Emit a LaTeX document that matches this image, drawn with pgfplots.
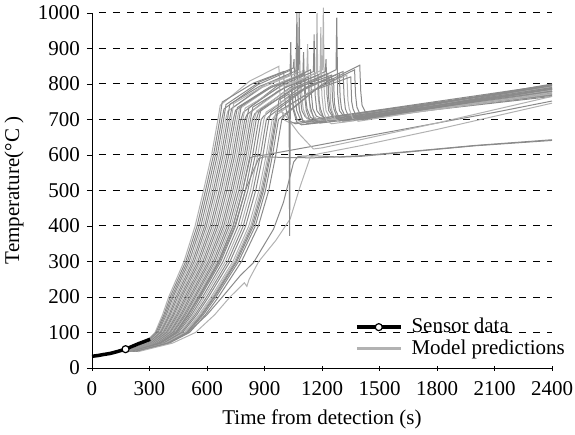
\documentclass[border=0pt]{standalone}
\usepackage{fontspec}
\setmainfont{Liberation Serif}
\usepackage{pgfplots}
\pgfplotsset{compat=1.18}
\definecolor{gd}{RGB}{138,138,138}
\definecolor{gl}{RGB}{178,178,178}
\begin{document}
\fontsize{21bp}{25bp}\selectfont
\begin{tikzpicture}
\begin{axis}[
  scale only axis, width=460bp, height=355bp,
  xmin=0, xmax=2400, ymin=0, ymax=1000,
  xtick={0,300,...,2400}, ytick={0,100,...,1000},
  /pgf/number format/assume math mode=true,
  /pgf/number format/1000 sep={},
  axis x line=bottom, axis y line=left,
  axis line style={-, line width=0.9bp},
  ytick align=outside, major tick length=5bp,
  tick style={black, line width=0.9bp},
  xticklabel style={yshift=-4bp},
  ymajorgrids,
  major grid style={black, line width=1bp, dash pattern=on 7bp off 7bp, dash phase=7bp},
  clip=false,
  xlabel={Time from detection (s)},
  ylabel={Temperature(°C )},
  legend image code/.code={\draw[mark repeat=2,mark phase=2,#1] plot coordinates {(0bp,0bp) (22bp,0bp) (44bp,0bp)};},
  legend style={draw=none, fill=none, at={(1.035,0.02)}, anchor=south east,
    cells={anchor=west}, inner sep=1bp,
    /tikz/every odd column/.append style={column sep=7bp}},
  mp/.style={gd, line width=1bp, forget plot},
  ml/.style={gl, line width=1bp, forget plot},
]
% model predictions
\addplot[ml] coordinates {(185,47) (274,70) (329,100) (368,150) (400,200) (480,300) (538,400) (582,500) (624,600) (657,700) (669,740) (822,808) (975,850) (980,780) (987,730) (1005,698) (1035,690) (2400,775)};
\addplot[mp] coordinates {(186,47) (278,70) (334,100) (375,150) (408,200) (489,300) (548,400) (592,500) (634,600) (667,700) (679,749) (840,802) (1000,835) (1005,765) (1012,730) (1030,696) (1060,688) (2400,770)};
\addplot[mp] coordinates {(188,47) (282,70) (340,100) (381,150) (416,200) (498,300) (558,400) (602,500) (644,600) (677,700) (689,730) (865,798) (1040,840) (1045,770) (1052,730) (1070,700) (1100,692) (2400,780)};
\addplot[mp] coordinates {(189,47) (286,70) (345,100) (388,150) (423,200) (507,300) (568,400) (613,500) (654,600) (687,700) (699,742) (875,806) (1050,845) (1054,870) (1059,770) (1068,725) (1085,703) (1110,695) (2400,785)};
\addplot[ml] coordinates {(190,47) (289,70) (351,100) (395,150) (431,200) (516,300) (578,400) (623,500) (664,600) (697,700) (709,724) (887,790) (1064,830) (1068,970) (1073,770) (1082,725) (1099,698) (1124,690) (2400,772)};
\addplot[mp] coordinates {(192,47) (293,70) (356,100) (402,150) (439,200) (525,300) (588,400) (633,500) (674,600) (707,700) (719,743) (876,794) (1033,825) (1037,918) (1042,770) (1051,725) (1068,693) (1093,685) (2400,765)};
\addplot[mp] coordinates {(193,47) (297,70) (361,100) (408,150) (447,200) (534,300) (597,400) (643,500) (684,600) (717,700) (729,731) (903,799) (1077,840) (1081,1000) (1086,770) (1095,725) (1112,708) (1137,700) (2400,790)};
\addplot[ml] coordinates {(194,47) (301,70) (367,100) (415,150) (455,200) (543,300) (607,400) (653,500) (694,600) (727,700) (739,745) (915,801) (1090,835) (1095,765) (1102,730) (1120,703) (1150,695) (2400,778)};
\addplot[mp] coordinates {(196,47) (305,70) (372,100) (422,150) (462,200) (552,300) (617,400) (664,500) (704,600) (737,700) (749,726) (907,784) (1065,820) (1069,1000) (1074,770) (1083,725) (1100,696) (1125,688) (2400,768)};
\addplot[mp] coordinates {(197,47) (309,70) (378,100) (428,150) (470,200) (561,300) (627,400) (674,500) (714,600) (747,700) (759,734) (935,794) (1110,830) (1115,760) (1122,730) (1140,706) (1170,698) (2400,785)};
\addplot[ml] coordinates {(199,47) (313,70) (383,100) (435,150) (478,200) (570,300) (637,400) (684,500) (725,600) (757,700) (769,730) (945,795) (1121,835) (1125,912) (1130,770) (1139,725) (1156,708) (1181,700) (2400,792)};
\addplot[mp] coordinates {(200,47) (317,70) (388,100) (442,150) (486,200) (579,300) (647,400) (694,500) (735,600) (767,700) (779,739) (940,792) (1100,825) (1104,890) (1109,770) (1118,725) (1135,700) (1160,692) (2400,775)};
\addplot[mp] coordinates {(201,47) (320,70) (394,100) (449,150) (494,200) (588,300) (657,400) (704,500) (745,600) (777,700) (789,720) (965,794) (1140,840) (1145,770) (1152,730) (1170,710) (1200,702) (2400,795)};
\addplot[ml] coordinates {(203,47) (324,70) (399,100) (455,150) (501,200) (597,300) (667,400) (715,500) (755,600) (787,700) (799,732) (985,793) (1170,830) (1174,1000) (1179,770) (1188,725) (1205,706) (1230,698) (2400,788)};
\addplot[mp] coordinates {(204,47) (328,70) (405,100) (462,150) (509,200) (606,300) (677,400) (725,500) (765,600) (797,700) (809,714) (970,780) (1130,820) (1135,750) (1142,730) (1160,698) (1190,690) (2400,770)};
\addplot[mp] coordinates {(205,47) (332,70) (410,100) (469,150) (517,200) (615,300) (687,400) (735,500) (775,600) (807,700) (819,733) (987,796) (1155,835) (1159,940) (1164,770) (1173,725) (1190,713) (1215,705) (2400,798)};
\addplot[ml] coordinates {(207,47) (336,70) (415,100) (476,150) (525,200) (624,300) (696,400) (745,500) (785,600) (817,700) (829,721) (1016,795) (1203,840) (1207,1015) (1212,770) (1221,725) (1238,708) (1263,700) (2400,790)};
\addplot[mp] coordinates {(208,47) (340,70) (421,100) (482,150) (533,200) (633,300) (706,400) (755,500) (795,600) (827,700) (839,735) (1010,791) (1180,825) (1185,755) (1192,730) (1210,703) (1240,695) (2400,780)};
\addplot[mp] coordinates {(209,47) (344,70) (426,100) (489,150) (540,200) (642,300) (716,400) (766,500) (805,600) (837,700) (849,716) (1033,790) (1217,835) (1221,870) (1226,770) (1235,725) (1252,711) (1277,703) (2400,795)};
\addplot[ml] coordinates {(211,47) (348,70) (432,100) (496,150) (548,200) (651,300) (726,400) (776,500) (815,600) (847,700) (859,724) (1025,784) (1190,820) (1194,960) (1199,770) (1208,725) (1225,696) (1250,688) (2400,772)};
\addplot[mp] coordinates {(212,47) (351,70) (437,100) (502,150) (556,200) (660,300) (736,400) (786,500) (825,600) (857,700) (869,720) (1050,788) (1230,830) (1235,760) (1242,730) (1260,708) (1290,700) (2400,785)};
\addplot[mp] coordinates {(214,47) (357,70) (444,100) (511,150) (566,200) (672,300) (749,400) (800,500) (838,600) (870,700) (882,729) (1066,789) (1250,825) (1255,755) (1262,730) (1280,703) (1310,695) (2400,780)};
\addplot[mp] coordinates {(216,47) (362,70) (451,100) (520,150) (577,200) (684,300) (762,400) (813,500) (852,600) (883,700) (895,709) (1084,790) (1273,840) (1277,987) (1282,770) (1291,725) (1308,713) (1333,705) (2400,798)};
\addplot[ml] coordinates {(217,47) (367,70) (459,100) (529,150) (587,200) (696,300) (776,400) (827,500) (865,600) (897,700) (909,721) (1075,779) (1240,815) (1245,745) (1252,725) (1270,700) (1300,692) (2400,776)};
\addplot[mp] coordinates {(219,47) (372,70) (466,100) (538,150) (598,200) (708,300) (789,400) (840,500) (879,600) (910,700) (922,708) (1106,784) (1290,830) (1295,760) (1302,730) (1320,710) (1350,702) (2400,790)};
\addplot[mp] coordinates {(221,47) (377,70) (473,100) (547,150) (608,200) (720,300) (802,400) (854,500) (892,600) (923,700) (935,721) (1123,792) (1310,835) (1315,765) (1322,730) (1340,706) (1370,698) (2400,785)};
\addplot[ml] coordinates {(223,47) (384,70) (482,100) (558,150) (621,200) (735,300) (818,400) (871,500) (909,600) (940,700) (952,709) (1141,781) (1330,825) (1335,755) (1342,730) (1360,703) (1390,695) (2400,782)};
\addplot[mp] coordinates {(226,47) (390,70) (491,100) (570,150) (634,200) (750,300) (835,400) (888,500) (926,600) (957,700) (969,722) (1160,783) (1350,820) (1355,750) (1362,730) (1380,708) (1410,700) (2400,788)};
\addplot[mp] coordinates {(228,47) (397,70) (500,100) (581,150) (647,200) (765,300) (852,400) (905,500) (942,600) (973,700) (985,706) (1178,789) (1370,840) (1375,770) (1382,735) (1400,713) (1430,705) (2400,796)};
\addplot[mp] coordinates {(230,47) (403,70) (509,100) (592,150) (660,200) (780,300) (868,400) (922,500) (959,600) (990,700) (1002,710) (1200,799) (1397,853) (1402,780) (1409,740) (1427,720) (1457,712) (2400,800)};
% curves that level off lower
\addplot[mp] coordinates {(214,47) (357,70) (440,100) (500,150) (560,200) (665,300) (745,400) (800,500) (845,560) (870,590) (900,595) (1000,593) (1150,592) (1300,595) (1400,598) (1700,612) (2000,627) (2400,643)};
\addplot[mp] coordinates {(212,47) (351,70) (437,100) (502,150) (556,200) (660,300) (736,400) (786,500) (825,592) (845,596) (900,600) (1155,625) (1400,650) (1800,690) (2100,720) (2400,752)};
\addplot[ml] coordinates {(225,47) (388,70) (487,100) (565,150) (629,200) (744,300) (828,400) (881,500) (919,600) (950,700) (962,725) (998,719) (1080,660) (1155,617) (1200,620) (1400,643) (1800,690) (2400,765)};
\addplot[mp] coordinates {(230,47) (400,70) (500,100) (600,150) (680,200) (773,260) (843,297) (947,391) (999,467) (1052,580) (1075,596) (1150,598) (1300,594) (1400,596) (1700,611) (2000,626) (2400,641)};
\addplot[ml] coordinates {(240,46) (420,70) (540,100) (640,150) (720,200) (795,240) (808,230) (820,250) (870,300) (960,360) (1034,420) (1087,513) (1139,594) (1180,603) (1400,626) (1800,672) (2400,746)};
\addplot[mp] coordinates {(226,47) (393,70) (495,100) (574,150) (639,200) (756,300) (842,400) (895,500) (932,600) (963,700) (975,755) (1028,772) (1031,372) (1035,765) (1150,800) (1260,815) (1265,745) (1272,725) (1290,705) (1320,697) (2400,780)};
% sensor data
\addplot[black, line width=3.5bp, forget plot] coordinates {(0,33) (30,35) (60,38) (95,41) (130,46) (175,53) (210,61) (245,69) (275,75) (303,81)};
\addplot[only marks, mark=*, mark size=3.5bp, mark options={fill=white, draw=black, line width=1.2bp}, forget plot] coordinates {(175,53)};
\addlegendimage{black, line width=3.5bp, mark=*, mark size=3.5bp, mark options={fill=white, draw=black, line width=1.2bp, solid}}
\addlegendimage{gl, line width=3bp}
\legend{Sensor data, Model predictions}
\coordinate (o) at (rel axis cs:0,0);
\end{axis}
\pgfresetboundingbox
\path (o) ++(-92bp,-67bp) rectangle ++(575bp,435bp);
\end{tikzpicture}
\end{document}
